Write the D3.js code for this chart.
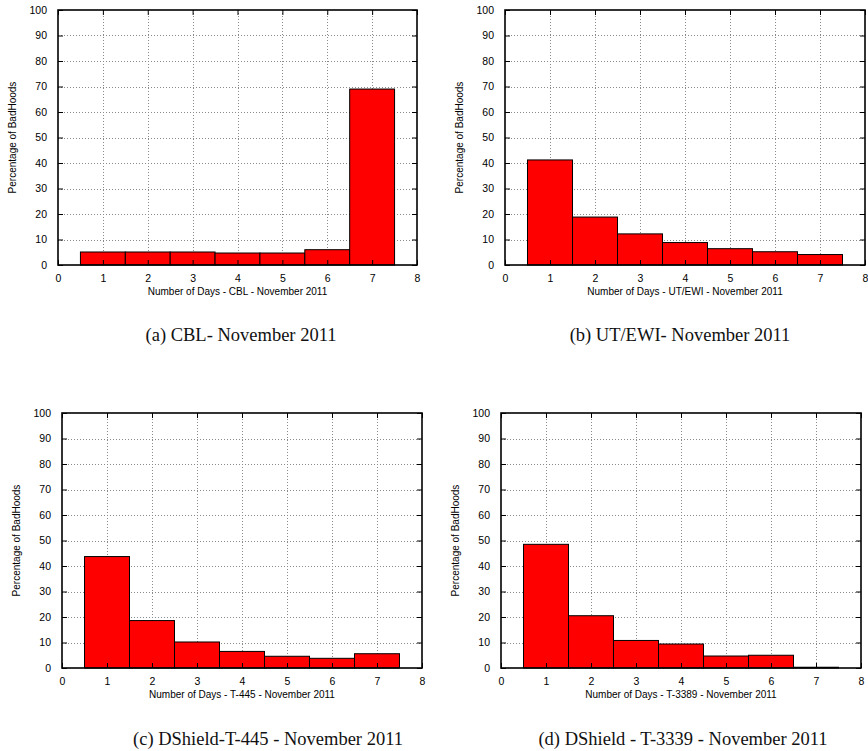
<!DOCTYPE html>
<html>
<head>
<meta charset="utf-8">
<script src="https://cdn.jsdelivr.net/npm/d3@7"></script>
<style>
  html, body { margin: 0; padding: 0; background: #fff; }
  svg { display: block; }
</style>
</head>
<body>
<svg id="chart" width="868" height="751"></svg>
<script>
// ---- data ----
const days = [1, 2, 3, 4, 5, 6, 7];
const xTicks = [0, 1, 2, 3, 4, 5, 6, 7, 8];
const yTicks = [0, 10, 20, 30, 40, 50, 60, 70, 80, 90, 100];
const cblValues   = [5.1, 5.1, 5.1, 4.7, 4.7, 6.0, 69.0];
const utewiValues = [41.2, 18.8, 12.2, 8.8, 6.4, 5.2, 4.1];
const t445Values  = [43.7, 18.6, 10.2, 6.5, 4.6, 3.8, 5.6];
const t3389Values = [48.5, 20.5, 10.8, 9.4, 4.7, 5.0, 0.3];
const yTitle = "Percentage of BadHoods";
const xTitles = [
  "Number of Days - CBL - November 2011",
  "Number of Days - UT/EWI - November 2011",
  "Number of Days - T-445 - November 2011",
  "Number of Days - T-3389 - November 2011"
];
const captions = [
  "(a) CBL- November 2011",
  "(b) UT/EWI- November 2011",
  "(c) DShield-T-445 - November 2011",
  "(d) DShield - T-3339 - November 2011"
];

// ---- layout ----
const panels = [
  { values: cblValues,   left: 58,  right: 417, top: 10,  bottom: 265, capX: 241, capY: 341 },
  { values: utewiValues, left: 505, right: 865, top: 10,  bottom: 265, capX: 680, capY: 341 },
  { values: t445Values,  left: 62,  right: 422, top: 413, bottom: 668, capX: 268, capY: 745 },
  { values: t3389Values, left: 501, right: 861, top: 413, bottom: 668, capX: 683, capY: 745 }
];

const svg = d3.select("#chart");
const sansFont = "'Liberation Sans', Arial, sans-serif";
const serifFont = "'Liberation Serif', 'Times New Roman', serif";

panels.forEach((p, i) => {
  const x = d3.scaleLinear().domain([0, 8]).range([p.left, p.right]);
  const y = d3.scaleLinear().domain([0, 100]).range([p.bottom, p.top]);
  const g = svg.append("g");

  // grid
  const grid = g.append("g").attr("stroke", "#8a8a8a").attr("stroke-width", 1)
    .attr("stroke-dasharray", "1,2");
  grid.selectAll("line.h").data(yTicks.filter(d => d > 0 && d < 100)).join("line")
    .attr("x1", p.left).attr("x2", p.right)
    .attr("y1", d => Math.round(y(d)) + 0.5).attr("y2", d => Math.round(y(d)) + 0.5);
  grid.selectAll("line.v").data(xTicks.filter(d => d > 0 && d < 8)).join("line")
    .attr("y1", p.top).attr("y2", p.bottom)
    .attr("x1", d => Math.round(x(d)) + 0.5).attr("x2", d => Math.round(x(d)) + 0.5);

  // bars
  g.append("g").selectAll("rect").data(days).join("rect")
    .attr("x", d => x(d - 0.5))
    .attr("width", d => x(d + 0.5) - x(d - 0.5))
    .attr("y", (d, j) => y(p.values[j]))
    .attr("height", (d, j) => y(0) - y(p.values[j]))
    .attr("fill", "#ff0000")
    .attr("stroke", "#000")
    .attr("stroke-width", 1);

  // axes (inward ticks on all sides)
  const axL = g.append("g").attr("transform", `translate(${p.left},0)`)
    .call(d3.axisLeft(y).tickValues(yTicks).tickSize(-5).tickPadding(11).tickFormat(d3.format("d")));
  const axR = g.append("g").attr("transform", `translate(${p.right},0)`)
    .call(d3.axisRight(y).tickValues(yTicks).tickSize(-5).tickFormat(""));
  const axB = g.append("g").attr("transform", `translate(0,${p.bottom})`)
    .call(d3.axisBottom(x).tickValues(xTicks).tickSize(-5).tickPadding(10).tickFormat(d3.format("d")));
  const axT = g.append("g").attr("transform", `translate(0,${p.top})`)
    .call(d3.axisTop(x).tickValues(xTicks).tickSize(-5).tickFormat(""));
  [axL, axR, axB, axT].forEach(a => {
    a.select(".domain").remove();
    a.selectAll("line").attr("stroke", "#000").attr("stroke-width", 1);
    a.selectAll("text").attr("font-family", sansFont).attr("font-size", 10.5).attr("fill", "#000");
  });

  // border
  g.append("rect")
    .attr("x", p.left).attr("y", p.top)
    .attr("width", p.right - p.left).attr("height", p.bottom - p.top)
    .attr("fill", "none").attr("stroke", "#000").attr("stroke-width", 1.6);

  // axis titles
  g.append("text")
    .attr("transform", `translate(${p.left - 42},${(p.top + p.bottom) / 2}) rotate(-90)`)
    .attr("text-anchor", "middle")
    .attr("font-family", sansFont).attr("font-size", 10)
    .text(yTitle);
  g.append("text")
    .attr("x", (p.left + p.right) / 2).attr("y", p.bottom + 30)
    .attr("text-anchor", "middle")
    .attr("font-family", sansFont).attr("font-size", 10)
    .text(xTitles[i]);

  // caption
  svg.append("text")
    .attr("x", p.capX).attr("y", p.capY)
    .attr("text-anchor", "middle")
    .attr("font-family", serifFont).attr("font-size", 18.5)
    .attr("fill", "#111")
    .text(captions[i]);
});
</script>
</body>
</html>
